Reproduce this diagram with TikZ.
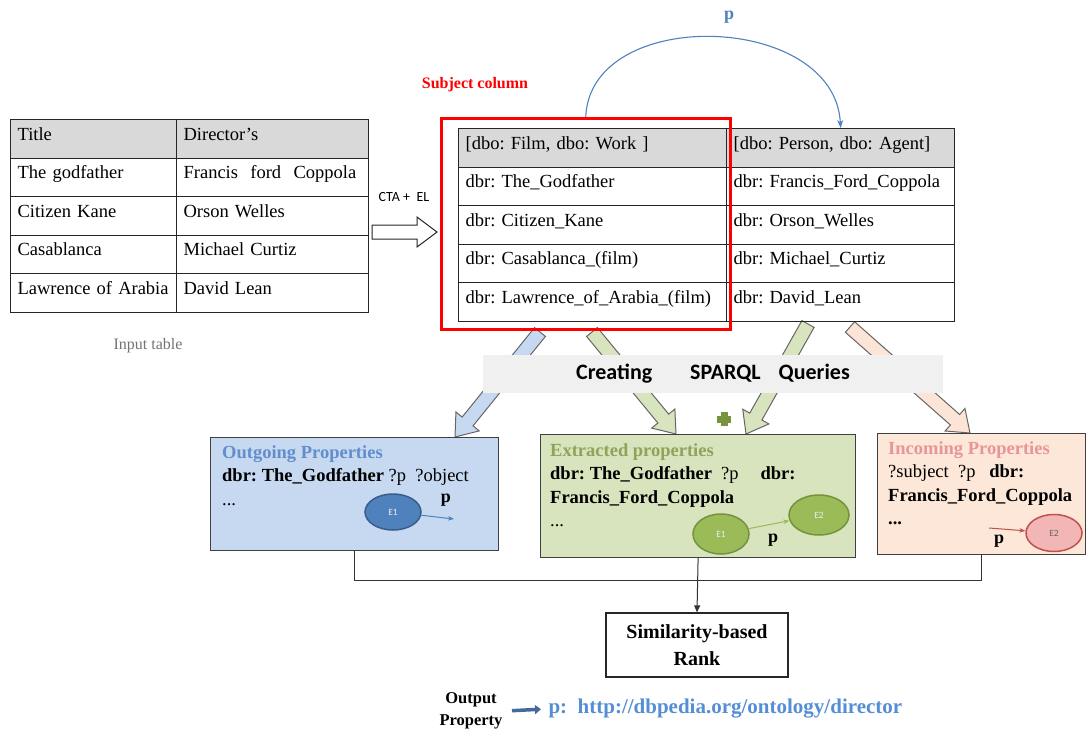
\documentclass[tikz,border=0pt]{standalone}
\usepackage{fontspec}
\setmainfont{Liberation Serif}
\newfontfamily\calibri{Carlito}
\usetikzlibrary{shapes.geometric,arrows.meta,calc}
\frenchspacing

\definecolor{hdgray}{RGB}{217,217,217}
\definecolor{bandgray}{RGB}{240,240,240}
\definecolor{outfill}{RGB}{198,217,241}
\definecolor{extfill}{RGB}{215,228,189}
\definecolor{incfill}{RGB}{253,231,216}
\definecolor{outtitle}{RGB}{98,142,203}
\definecolor{exttitle}{RGB}{143,163,90}
\definecolor{inctitle}{RGB}{230,150,150}
\definecolor{arcblue}{RGB}{79,129,189}
\definecolor{urlblue}{RGB}{85,142,213}
\definecolor{outarrow}{RGB}{68,106,156}
\definecolor{e1blue}{RGB}{79,129,189}
\definecolor{e1border}{RGB}{56,93,138}
\definecolor{egreen}{RGB}{155,187,89}
\definecolor{egreenb}{RGB}{118,146,60}
\definecolor{epink}{RGB}{243,182,182}
\definecolor{epinkb}{RGB}{192,80,77}
\definecolor{plusgreen}{RGB}{119,147,60}
\definecolor{peach}{RGB}{252,228,214}

% block arrow from #2 to #3
\newcommand\blockarrow[3]{%
  \coordinate (bahead) at ($(#3)!20pt!(#2)$);
  \draw[#1] ($(#2)!7pt!90:(#3)$) -- ($(bahead)!7pt!90:(#3)$) -- ($(bahead)!15pt!90:(#3)$) -- (#3)
    -- ($(bahead)!15pt!-90:(#3)$) -- ($(bahead)!7pt!-90:(#3)$) -- ($(#2)!7pt!-90:(#3)$) -- cycle;}

\begin{document}
\begin{tikzpicture}[x=1pt,y=-1pt,
  cell/.style={draw=black!85, line width=1.2pt, anchor=north west, inner xsep=7pt, inner ysep=0pt,
    text height=20.5pt, text depth=18pt, align=left, font=\fontsize{18.5}{22}\selectfont},
  propbox/.style={draw=black!75, line width=1.2pt, anchor=north west, inner sep=0pt},
  boxtext/.style={anchor=north west, inner sep=0pt, align=left, font=\fontsize{18.5}{23.5}\selectfont},
  ent/.style={ellipse, line width=1.5pt, inner sep=0pt, text=white!85!gray, font=\calibri\fontsize{9.5}{10}\selectfont},
  plbl/.style={font=\bfseries\fontsize{18}{20}\selectfont},
  conn/.style={draw=black!80, line width=1pt}]
\useasboundingbox (0,0) rectangle (1088,731);

% block arrows under the query band
\coordinate (q1s) at (540,332); \coordinate (q1e) at (455,437);
\coordinate (q2s) at (592,332); \coordinate (q2e) at (676,434);
\coordinate (q3s) at (808,324); \coordinate (q3e) at (746,434);
\coordinate (q4s) at (850,327); \coordinate (q4e) at (970,433);
\blockarrow{draw=black!60, fill=outfill, line width=1pt}{q1s}{q1e}
\blockarrow{draw=black!60, fill=extfill, line width=1pt}{q2s}{q2e}
\blockarrow{draw=black!60, fill=extfill, line width=1pt}{q3s}{q3e}
\blockarrow{draw=black!60, fill=peach, line width=1pt}{q4s}{q4e}
\node[fill=bandgray, minimum width=460pt, minimum height=38pt, font=\calibri\bfseries\fontsize{22}{24}\selectfont] (sparql) at (713,374) {Creating\hspace{38pt}SPARQL\hspace{18pt}Queries};
\fill[plusgreen] (717,415.5) rectangle (731,422.5);
\fill[plusgreen] (720.5,412) rectangle (727.5,426);

% input table
\node[cell, fill=hdgray, text width=152pt] (in-0-1) at (10,119) {Title};
\node[cell, fill=hdgray, text width=178pt] (in-0-2) at (176,119) {Director’s};
\foreach \a/\b [count=\i] in {The godfather/Francis\ \ ford\ \ Coppola, Citizen Kane/Orson Welles,
    Casablanca/Michael Curtiz, Lawrence of Arabia/David Lean}{
  \node[cell, text width=152pt] (in-\i-1) at (10,119+38.5*\i) {\a};
  \node[cell, text width=178pt] (in-\i-2) at (176,119+38.5*\i) {\b};
}
\node[text=black!55, font=\fontsize{16}{18}\selectfont] (inlbl) at (148,346) {Input table};

% annotated table
\node[cell, fill=hdgray, text width=254pt] (ent-0-1) at (458,128) {[dbo: Film, dbo: Work ]};
\node[cell, fill=hdgray, text width=214pt] (ent-0-2) at (726,128) {[dbo: Person, dbo: Agent]};
\foreach \a/\b [count=\i] in {The\_Godfather/Francis\_Ford\_Coppola, Citizen\_Kane/Orson\_Welles,
    Casablanca\_(film)/Michael\_Curtiz, Lawrence\_of\_Arabia\_(film)/David\_Lean}{
  \node[cell, text width=254pt] (ent-\i-1) at (458,128+38.5*\i) {dbr: \a};
  \node[cell, text width=214pt] (ent-\i-2) at (726,128+38.5*\i) {dbr: \b};
}
\node[draw=red, line width=2.5pt, minimum width=289pt, minimum height=211pt, anchor=north west, inner sep=0pt] (subj) at (440,117) {};
\node[text=red, font=\bfseries\fontsize{16}{18}\selectfont] (subjlbl) at (475,85) {Subject column};
\draw[arcblue, line width=1.1pt, -{Stealth[length=8pt,width=6pt]}] (subj.north) .. controls (590,5) and (835,12) .. (ent-0-2.north);
\node[plbl, text=arcblue] (arcp) at (729,17) {p};

% CTA + EL
\coordinate (ctas) at (372,232); \coordinate (ctae) at (437,232);
\blockarrow{draw=black!85, fill=white, line width=1pt}{ctas}{ctae}
\node[font=\calibri\fontsize{14}{16}\selectfont] (cta) at (404,197) {CTA +\ \ EL};

% property boxes
\node[propbox, fill=outfill, minimum width=288pt, minimum height=113pt] (outbox) at (210,437) {};
\node[propbox, fill=extfill, minimum width=315pt, minimum height=123pt] (extbox) at (540,434) {};
\node[propbox, fill=incfill, minimum width=208pt, minimum height=121pt] (incbox) at (877,433) {};

\node[boxtext] (outtxt) at (222,445) {{\color{outtitle}\bfseries Outgoing Properties}\\
  \textbf{dbr: The\_Godfather} ?p\ \ ?object\\ ...};
\node[boxtext] (exttxt) at (550,443) {{\color{exttitle}\bfseries Extracted properties}\\
  \textbf{dbr: The\_Godfather}\hspace{9pt}?p\hspace{22pt}\textbf{dbr:}\\ \textbf{Francis\_Ford\_Coppola}\\ ...};
\node[boxtext] (inctxt) at (888,441) {{\color{inctitle}\bfseries Incoming Properties}\\
  ?subject\ \ ?p\ \ \ \textbf{dbr:}\\ \textbf{Francis\_Ford\_Coppola}\\ \textbf{...}};

\node[ent, fill=e1blue, draw=e1border, minimum width=56pt, minimum height=36pt] (oute1) at (393,512) {E1};
\coordinate (outend) at (454,519);
\draw[e1blue, line width=1pt, -{Stealth[length=6pt]}] (oute1) -- (outend);
\node[plbl] (outp) at (446,500) {p};

\node[ent, fill=egreen, draw=egreenb, minimum width=56pt, minimum height=40pt] (exte1) at (721,534) {E1};
\node[ent, fill=egreen, draw=egreenb, minimum width=60pt, minimum height=40pt] (exte2) at (819,515) {E2};
\draw[egreen, line width=1pt, -{Stealth[length=6pt]}] (exte1) -- (exte2);
\node[plbl] (extp) at (773,540) {p};

\node[ent, fill=epink, draw=epinkb, text=black!60, minimum width=56pt, minimum height=37pt] (ince2) at (1054,533) {E2};
\coordinate (incstart) at (989,528);
\draw[epinkb, line width=1pt, -{Stealth[length=6pt]}] (incstart) -- (ince2);
\node[plbl] (incp) at (999,541) {p};

% ranking
\node[draw=black!85, line width=1.2pt, minimum width=182pt, minimum height=64pt, align=center,
  font=\bfseries\fontsize{20}{27}\selectfont] (simbox) at (697,645) {Similarity-based\\Rank};
\coordinate (join) at ($(extbox.south)+(0,22)$);
\draw[conn] (outbox.south) |- (join) -| (incbox.south);
\draw[conn, -{Triangle[length=7pt,width=6pt]}] (extbox.south) -- (simbox.north);

% output
\node[align=center, font=\bfseries\fontsize{16.5}{22}\selectfont] (outlbl) at (471,711) {Output\\Property};
\node[anchor=west, text=urlblue, font=\bfseries\fontsize{21}{24}\selectfont] (url) at (545,709) {p:\ \ http://dbpedia.org/ontology/director};
\draw[outarrow, line width=3.5pt, shorten <=6pt, shorten >=4pt, -{Triangle[length=6pt,width=9pt]}] (outlbl.east) -- (url.west);
\end{tikzpicture}
\end{document}
